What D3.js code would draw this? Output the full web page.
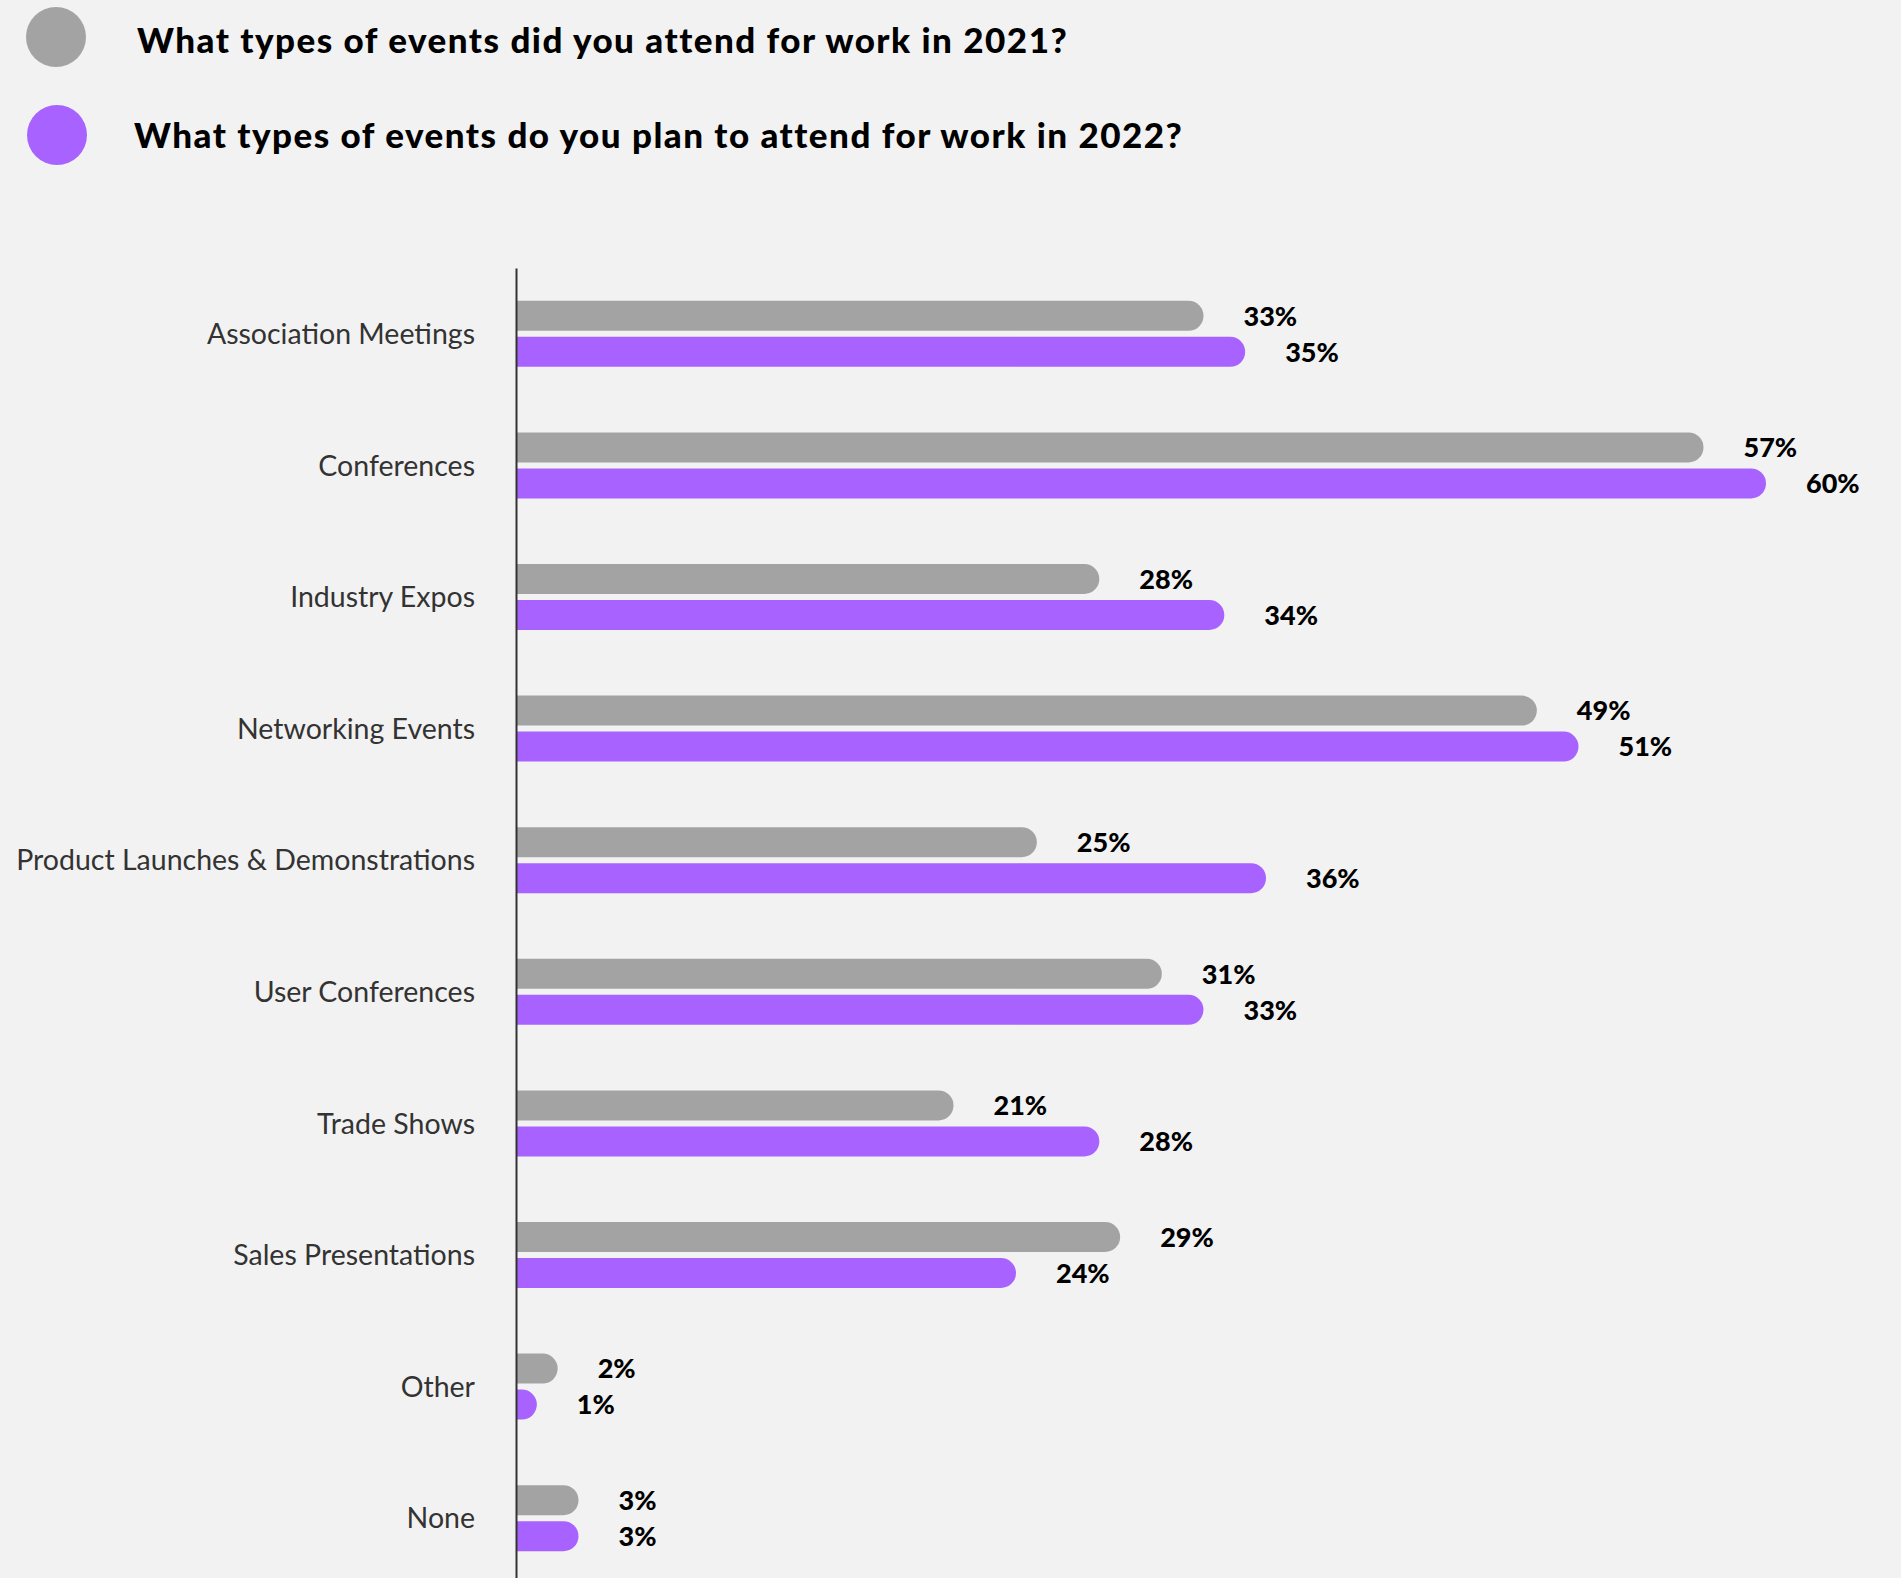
<!DOCTYPE html>
<html>
<head>
<meta charset="utf-8">
<script src="https://cdn.jsdelivr.net/npm/d3@7"></script>
<style>
  html, body { margin: 0; padding: 0; background: #f2f2f2; }
  svg { display: block; }
</style>
</head>
<body>
<script>
// Event types and share of respondents (%)
const categories = [
  "Association Meetings",
  "Conferences",
  "Industry Expos",
  "Networking Events",
  "Product Launches & Demonstrations",
  "User Conferences",
  "Trade Shows",
  "Sales Presentations",
  "Other",
  "None"
];
const attended2021 = [33, 57, 28, 49, 25, 31, 21, 29, 2, 3];
const planned2022 = [35, 60, 34, 51, 36, 33, 28, 24, 1, 3];
const seriesNames = [
  "What types of events did you attend for work in 2021?",
  "What types of events do you plan to attend for work in 2022?"
];
const seriesColors = ["#a3a3a3", "#a862ff"];

const W = 1901, H = 1578;
const axisX = 516;

const svg = d3.select("body").append("svg")
  .attr("width", W).attr("height", H)
  .style("background", "#f2f2f2");

// Legend
const legend = svg.append("g");
const legendRows = [{ cx: 56, cy: 37, tx: 137, ty: 53 }, { cx: 57, cy: 135, tx: 134, ty: 148 }];
seriesNames.forEach((name, i) => {
  const r = legendRows[i];
  legend.append("circle").attr("cx", r.cx).attr("cy", r.cy).attr("r", 30).attr("fill", seriesColors[i]);
  legend.append("text").attr("x", r.tx).attr("y", r.ty)
    .attr("font-family", "Lato, sans-serif").attr("font-weight", 900)
    .attr("font-size", 35).attr("letter-spacing", 1.5)
    .attr("fill", "#000").text(name);
});

// Scales
const x = d3.scaleLinear().domain([0, 60]).range([axisX, axisX + 1250]);
const y = d3.scaleBand().domain(categories).range([268, 268 + 131.6 * categories.length]).padding(0);
const inner = d3.scaleBand().domain([0, 1]).range([0, 66]).paddingInner(1 / 6).paddingOuter(0);

const rows = categories.map((c, i) => ({ cat: c, values: [attended2021[i], planned2022[i]] }));

// Bar with flat start and rounded end
function barPath(x0, x1, y0, h) {
  const r = Math.min(h / 2, x1 - x0);
  const p = d3.path();
  p.moveTo(x0, y0);
  p.lineTo(x1 - r, y0);
  p.arc(x1 - r, y0 + h / 2, r, -Math.PI / 2, Math.PI / 2);
  p.lineTo(x0, y0 + h);
  p.closePath();
  return p.toString();
}

const groups = svg.append("g").selectAll("g").data(rows).join("g")
  .attr("transform", d => `translate(0,${y(d.cat) + y.bandwidth() / 2 - 33})`);

groups.selectAll("path").data(d => d.values.map((v, k) => ({ v, k }))).join("path")
  .attr("d", d => barPath(x(0), x(d.v), inner(d.k), inner.bandwidth()))
  .attr("fill", d => seriesColors[d.k]);

groups.selectAll("text.val").data(d => d.values.map((v, k) => ({ v, k }))).join("text")
  .attr("class", "val")
  .attr("x", d => x(d.v) + 40)
  .attr("y", d => inner(d.k) + inner.bandwidth() / 2)
  .attr("dy", "0.36em")
  .attr("font-family", "Lato, sans-serif").attr("font-weight", 900)
  .attr("font-size", 27).attr("fill", "#000")
  .text(d => d.v + "%");

// Category axis
const yAxis = d3.axisLeft(y).tickSize(0).tickPadding(41);
const axisG = svg.append("g").attr("transform", `translate(${axisX},0)`).call(yAxis);
axisG.select(".domain").attr("stroke", "#333").attr("stroke-width", 2);
axisG.selectAll(".tick text")
  .attr("font-family", "Lato, sans-serif").attr("font-size", 28.5)
  .attr("fill", "#333").attr("dy", "0.36em");
</script>
</body>
</html>
